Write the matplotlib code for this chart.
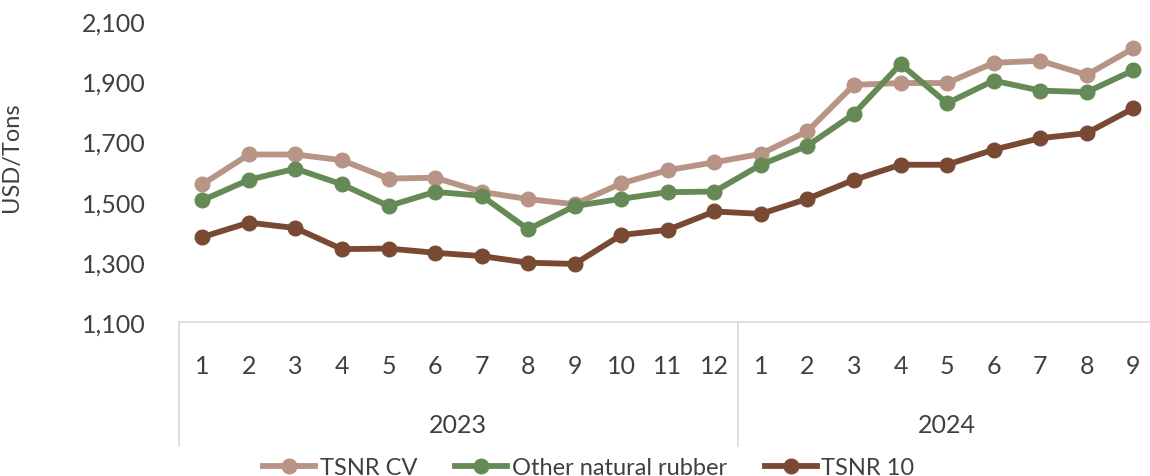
import numpy as np
import matplotlib.pyplot as plt
from matplotlib.lines import Line2D
import matplotlib.transforms as mtransforms

plt.rcParams['font.family'] = ['Lato', 'DejaVu Sans']

# monthly prices, Jan 2023 .. Sep 2024
years = ['2023', '2024']
months_2023 = [str(m) for m in range(1, 13)]
months_2024 = [str(m) for m in range(1, 10)]
month_labels = months_2023 + months_2024

tsnr_cv = [1558, 1657, 1657, 1638, 1577, 1580, 1533, 1509, 1492, 1561, 1605, 1631,
           1659, 1734, 1888, 1894, 1894, 1961, 1968, 1921, 2009]
other_rubber = [1505, 1573, 1610, 1558, 1486, 1533, 1520, 1409, 1486, 1510, 1532, 1534,
                1623, 1686, 1792, 1957, 1827, 1902, 1869, 1864, 1936]
tsnr_10 = [1383, 1431, 1413, 1343, 1345, 1331, 1320, 1298, 1294, 1390, 1407, 1468,
           1460, 1510, 1573, 1623, 1623, 1673, 1711, 1728, 1810]

series = [('TSNR CV', tsnr_cv, '#b89486'),
          ('Other natural rubber', other_rubber, '#658a55'),
          ('TSNR 10', tsnr_10, '#7a4934')]

txt = '#404040'
fig = plt.figure(figsize=(11.5, 4.77), dpi=100)
ax = fig.add_axes([0.1557, 0.322, 0.85, 0.632])

x = np.arange(len(month_labels))
for name, vals, col in series:
    ax.plot(x, vals, color=col, lw=4.2, marker='o', ms=10.5, label=name,
            solid_capstyle='round', zorder=3)

ax.set_xlim(-0.5, len(month_labels) - 0.5)
ax.set_ylim(1100, 2100)
ax.set_yticks(np.arange(1100, 2101, 200))
ax.yaxis.set_major_formatter(plt.FuncFormatter(lambda v, p: f'{int(v):,}'))
ax.tick_params(axis='y', length=0, labelsize=18, labelcolor=txt, pad=24)

ax.set_xticks(x)
ax.set_xticklabels(month_labels)
ax.tick_params(axis='x', length=0, labelsize=18, labelcolor=txt, pad=23)

for s in ['top', 'right', 'left']:
    ax.spines[s].set_visible(False)
ax.spines['bottom'].set_color('#d9d9d9')
ax.spines['bottom'].set_linewidth(1.2)

ax.set_ylabel('USD/Tons', fontsize=17, color=txt)
ax.yaxis.set_label_coords(-0.161, 0.55)

# year group labels and separators under the month ticks
trans = mtransforms.blended_transform_factory(ax.transData, ax.transAxes)
bounds = [-0.5, len(months_2023) - 0.5, len(month_labels) - 0.5]
for i, yr in enumerate(years):
    mid = (bounds[i] + bounds[i + 1]) / 2
    ax.text(mid, -0.34, yr, transform=trans, ha='center', va='center',
            fontsize=18, color=txt)
for b in bounds:
    ax.plot([b, b], [0, -0.41], transform=trans, color='#d9d9d9', lw=1.2,
            clip_on=False)

handles = [Line2D([0], [0], color=c, lw=4.2, marker='o', ms=10.5) for _, _, c in series]
fig.legend(handles, [n for n, _, _ in series], loc='center', ncol=3,
           bbox_to_anchor=(0.512, 0.018), frameon=False, fontsize=17,
           handlelength=2.2, columnspacing=1.6, handletextpad=0.2,
           labelcolor=txt)

fig.savefig('out.png', dpi=100)
